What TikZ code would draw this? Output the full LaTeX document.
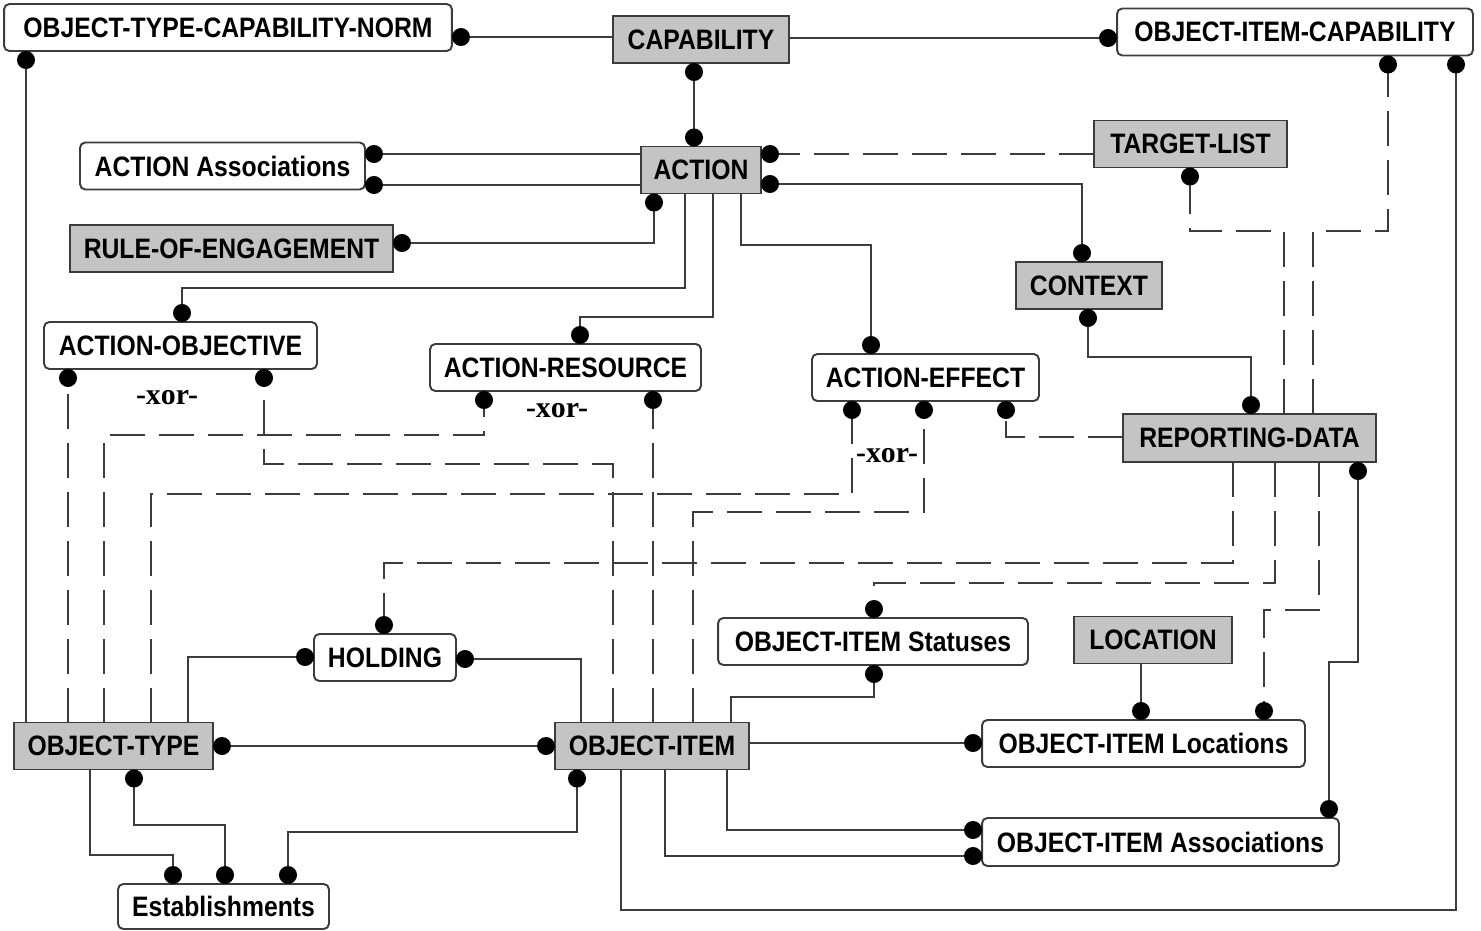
\documentclass[tikz,border=0pt]{standalone}
\usepackage{fontspec}
\setmainfont[FakeStretch=0.88]{Liberation Sans}
\newfontfamily\xorfont{Liberation Serif}
\usetikzlibrary{arrows.meta}
\definecolor{boxgray}{HTML}{C4C4C4}
\definecolor{edgegray}{HTML}{3C3C3C}
\tikzset{>={Circle[length=0.36cm,black]}}
\tikzset{
  entity/.style={draw=edgegray, line width=1.1pt, minimum height=0.94cm,
    inner sep=0.1cm, outer sep=0pt, font=\fontsize{16}{18}\selectfont\bfseries},
  indep/.style={entity, fill=boxgray},
  dep/.style={entity, fill=white, rounded corners=3pt},
  rel/.style={draw=edgegray, line width=1.1pt},
  optrel/.style={rel, dash pattern=on 0.7cm off 0.28cm},
  xorlabel/.style={inner sep=0pt, font=\xorfont\fontsize{17}{19}\selectfont\bfseries}
}
\begin{document}
\begin{tikzpicture}[x=0.02cm, y=-0.02cm]
  \useasboundingbox (0,0) rectangle (1481,930);
  % entities
  \node[dep, minimum width=8.96cm] (otcn) at (228,27.5) {OBJECT-TYPE-CAPABILITY-NORM};
  \node[indep, minimum width=3.52cm] (capability) at (701,39.5) {CAPABILITY};
  \node[dep, minimum width=7.12cm] (oic) at (1295,32) {OBJECT-ITEM-CAPABILITY};
  \node[dep, minimum width=5.7cm] (actassoc) at (222.5,166) {ACTION Associations};
  \node[indep, minimum width=2.4cm] (action) at (701,170) {ACTION};
  \node[indep, minimum width=3.86cm] (targetlist) at (1190.5,144) {TARGET-LIST};
  \node[indep, minimum width=6.46cm] (roe) at (231.5,248.5) {RULE-OF-ENGAGEMENT};
  \node[indep, minimum width=2.92cm] (context) at (1089,285.5) {CONTEXT};
  \node[dep, minimum width=5.46cm] (objective) at (180.5,345.5) {ACTION-OBJECTIVE};
  \node[dep, minimum width=5.42cm] (resource) at (565.5,367.5) {ACTION-RESOURCE};
  \node[dep, minimum width=4.54cm] (effect) at (925.5,377.5) {ACTION-EFFECT};
  \node[indep, minimum width=5.06cm, minimum height=0.96cm] (reporting) at (1249.5,438) {REPORTING-DATA};
  \node[dep, minimum width=2.84cm] (holding) at (385,657.5) {HOLDING};
  \node[dep, minimum width=6.2cm] (statuses) at (873,641.5) {OBJECT-ITEM Statuses};
  \node[indep, minimum width=3.16cm] (location) at (1153,640) {LOCATION};
  \node[indep, minimum width=3.98cm] (objtype) at (113.5,746) {OBJECT-TYPE};
  \node[indep, minimum width=3.88cm] (objitem) at (652,746) {OBJECT-ITEM};
  \node[dep, minimum width=6.46cm] (oiloc) at (1143.5,743.5) {OBJECT-ITEM Locations};
  \node[dep, minimum width=7.14cm, minimum height=0.96cm] (oiassoc) at (1160.5,842) {OBJECT-ITEM Associations};
  \node[dep, minimum width=4.22cm, minimum height=0.9cm] (establish) at (223.5,906.5) {Establishments};
  \node[xorlabel] (xorobj) at (167,398) {-xor-};
  \node[xorlabel] (xorres) at (557,411) {-xor-};
  \node[xorlabel] (xoreff) at (887,456) {-xor-};

  % relationships
  \draw[rel, ->] (capability.west |- 0,37) -- (otcn.east |- 0,37);
  \draw[rel, ->] (capability.east |- 0,38) -- (oic.west |- 0,38);
  \draw[rel, <->] (capability.south -| 694,0) -- (action.north -| 694,0);
  \draw[rel, ->] (action.west |- 0,154) -- (actassoc.east |- 0,154);
  \draw[rel, ->] (action.west |- 0,185) -- (actassoc.east |- 0,185);
  \draw[optrel, ->] (targetlist.west |- 0,154) -- (action.east |- 0,154);
  \draw[rel, <->] (action.east |- 0,184) -| (context.north -| 1082,0);
  \draw[rel, <->] (roe.east |- 0,243) -| (action.south -| 654,0);
  \draw[rel, ->] (action.south -| 685,0) -- (685,288) -| (objective.north -| 182,0);
  \draw[rel, ->] (action.south -| 713,0) -- (713,317) -| (resource.north -| 580,0);
  \draw[rel, ->] (action.south -| 741,0) -- (741,245) -| (effect.north -| 871,0);
  \draw[optrel, ->] (reporting.north -| 1284,0) -- (1284,231) -| (targetlist.south -| 1190,0);
  \draw[optrel, ->] (reporting.north -| 1313,0) -- (1313,231) -| (oic.south -| 1388,0);
  \draw[rel, ->] (objitem.south -| 621,0) -- (621,910) -| (oic.south -| 1456,0);
  \draw[rel, ->] (objtype.north -| 26,0) -- (otcn.south -| 26,0);
  \draw[rel, <->] (context.south -| 1088,0) -- (1088,357) -| (reporting.north -| 1251,0);
  \draw[optrel, ->] (reporting.west |- 0,437) -| (effect.south -| 1006,0);
  \draw[rel, <->] (oiassoc.north -| 1329,0) -- (1329,662) -| (reporting.south -| 1358,0);
  \draw[optrel, ->] (reporting.south -| 1233,0) -- (1233,563) -| (holding.north -| 384,0);
  \draw[optrel, ->] (reporting.south -| 1275,0) -- (1275,583) -| (statuses.north -| 874,0);
  \draw[optrel, ->] (reporting.south -| 1319,0) -- (1319,610) -| (oiloc.north -| 1264,0);
  \draw[optrel, ->] (objtype.north -| 68,0) -- (objective.south -| 68,0);
  \draw[optrel, ->] (objitem.north -| 613,0) -- (613,464) -| (objective.south -| 264,0);
  \draw[optrel, ->] (objtype.north -| 104,0) -- (104,435) -| (resource.south -| 484,0);
  \draw[optrel, ->] (objitem.north -| 653,0) -- (resource.south -| 653,0);
  \draw[optrel, ->] (objtype.north -| 151,0) -- (151,494) -| (effect.south -| 852,0);
  \draw[optrel, ->] (objitem.north -| 693,0) -- (693,512) -| (effect.south -| 924,0);
  \draw[rel, ->] (objtype.north -| 188,0) |- (holding.west |- 0,657);
  \draw[rel, ->] (objitem.north -| 581,0) |- (holding.east |- 0,659);
  \draw[rel, <->] (objtype.east |- 0,746) -- (objitem.west |- 0,746);
  \draw[rel, ->] (objitem.north -| 731,0) -- (731,697) -| (statuses.south -| 874,0);
  \draw[rel, ->] (objitem.east |- 0,743) -- (oiloc.west |- 0,743);
  \draw[rel, ->] (location.south -| 1141,0) -- (oiloc.north -| 1141,0);
  \draw[rel, ->] (objitem.south -| 727,0) |- (oiassoc.west |- 0,830);
  \draw[rel, ->] (objitem.south -| 665,0) |- (oiassoc.west |- 0,856);
  \draw[rel, <->] (objitem.south -| 577,0) -- (577,832) -| (establish.north -| 288,0);
  \draw[rel, <->] (objtype.south -| 134,0) -- (134,825) -| (establish.north -| 225,0);
  \draw[rel, ->] (objtype.south -| 90,0) -- (90,855) -| (establish.north -| 173,0);
\end{tikzpicture}
\end{document}
